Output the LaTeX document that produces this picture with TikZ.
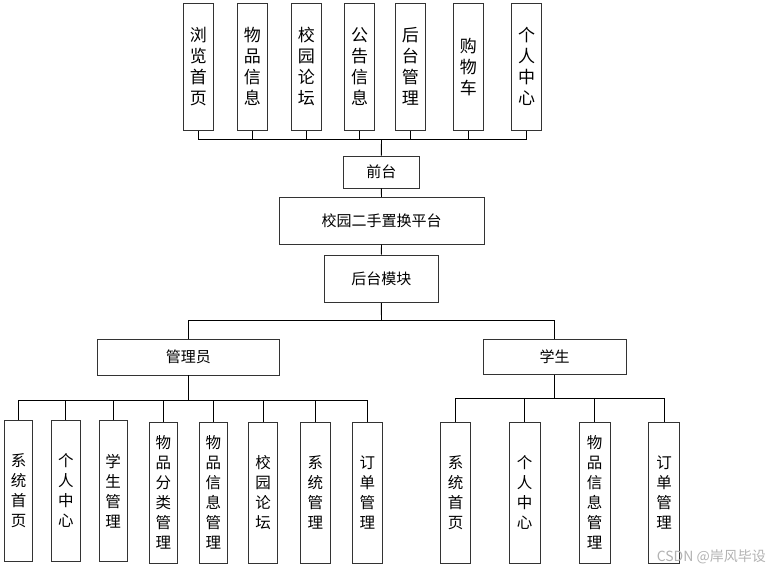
\documentclass[tikz,border=0pt]{standalone}
\usepackage{fontspec}
\newfontfamily\cjk{Noto Sans CJK SC}
\tikzset{
  box/.style={draw=black!80, line width=0.9pt, fill=white, inner sep=0pt, align=center},
  topbox/.style={box, minimum width=30pt, minimum height=126.7pt, font=\cjk\fontsize{17}{21}\selectfont},
  midbox/.style={box, font=\cjk\fontsize{15}{18}\selectfont},
  leafbox/.style={box, minimum width=29pt, minimum height=141.5pt, font=\cjk\fontsize{15.5}{20}\selectfont},
  conn/.style={line width=0.9pt, black}
}
\begin{document}
\begin{tikzpicture}[x=1pt,y=-1pt]
\useasboundingbox (0,0) rectangle (770,573);
% top row
\node[topbox] (t1) at (198.3,66.7) {浏\\览\\首\\页};
\node[topbox] (t2) at (252.3,66.7) {物\\品\\信\\息};
\node[topbox] (t3) at (306.3,66.7) {校\\园\\论\\坛};
\node[topbox] (t4) at (359.7,66.7) {公\\告\\信\\息};
\node[topbox] (t5) at (410.3,66.7) {后\\台\\管\\理};
\node[topbox] (t6) at (468.3,66.7) {购\\物\\车};
\node[topbox] (t7) at (526.7,66.7) {个\\人\\中\\心};
% middle chain
\node[midbox, minimum width=76pt, minimum height=32pt] (qt) at (381.3,172) {前台};
\node[midbox, minimum width=205pt, minimum height=46.7pt] (pt) at (381.5,220.7) {校园二手置换平台};
\node[midbox, minimum width=114pt, minimum height=47.7pt] (ht) at (381.3,278.8) {后台模块};
\node[midbox, minimum width=182pt, minimum height=36pt] (gly) at (188.3,357) {管理员};
\node[midbox, minimum width=142.7pt, minimum height=35.3pt] (xs) at (554.7,356.7) {学生};
% admin leaves
\node[leafbox, minimum width=28pt] (a1) at (18.7,490.8) {系\\统\\首\\页};
\node[leafbox, minimum width=28.3pt] (a2) at (65.9,490.8) {个\\人\\中\\心};
\node[leafbox, minimum width=28.3pt] (a3) at (113.2,490.8) {学\\生\\管\\理};
\node[leafbox, minimum width=28.7pt, minimum height=140.7pt] (a4) at (163.3,492.7) {物\\品\\分\\类\\管\\理};
\node[leafbox, minimum width=28.7pt, minimum height=140.7pt] (a5) at (213.3,492.7) {物\\品\\信\\息\\管\\理};
\node[leafbox, minimum width=28.7pt, minimum height=140.7pt] (a6) at (263,492.7) {校\\园\\论\\坛};
\node[leafbox, minimum width=29.3pt, minimum height=140.7pt] (a7) at (315.3,492.7) {系\\统\\管\\理};
\node[leafbox, minimum width=30pt, minimum height=140.7pt] (a8) at (367.3,492.7) {订\\单\\管\\理};
% student leaves
\node[leafbox, minimum width=30pt, minimum height=141pt] (s1) at (455.7,492.8) {系\\统\\首\\页};
\node[leafbox, minimum width=30.7pt, minimum height=141pt] (s2) at (524.7,492.8) {个\\人\\中\\心};
\node[leafbox, minimum width=30.7pt, minimum height=141pt] (s3) at (594.7,492.8) {物\\品\\信\\息\\管\\理};
\node[leafbox, minimum width=30.7pt, minimum height=141pt] (s4) at (664,492.8) {订\\单\\管\\理};
% bus coordinates
\coordinate (topbus) at (381.5,139.3);
\coordinate (midbus) at (381.5,320);
\coordinate (abus) at (188.3,400.7);
\coordinate (sbus) at (554.7,398.3);
% connectors
\foreach \n in {t1,t2,t3,t4,t5,t6,t7} \draw[conn] (\n.south) |- (topbus);
\draw[conn] (topbus) -- (qt.north);
\draw[conn] (qt.south) -- (pt.north);
\draw[conn] (pt.south) -- (ht.north);
\draw[conn] (ht.south) -- (midbus);
\draw[conn] (midbus) -| (gly.north);
\draw[conn] (midbus) -| (xs.north);
\draw[conn] (gly.south) -- (abus);
\draw[conn] (xs.south) -- (sbus);
\foreach \n in {a1,a2,a3,a4,a5,a6,a7,a8} \draw[conn] (\n.north) |- (abus);
\foreach \n in {s1,s2,s3,s4} \draw[conn] (\n.north) |- (sbus);
% watermark
\node[anchor=east, text=black!30, font=\cjk\fontsize{14}{16}\selectfont, inner sep=0pt] (wm) at (766,557) {CSDN @岸风毕设};
\end{tikzpicture}
\end{document}
